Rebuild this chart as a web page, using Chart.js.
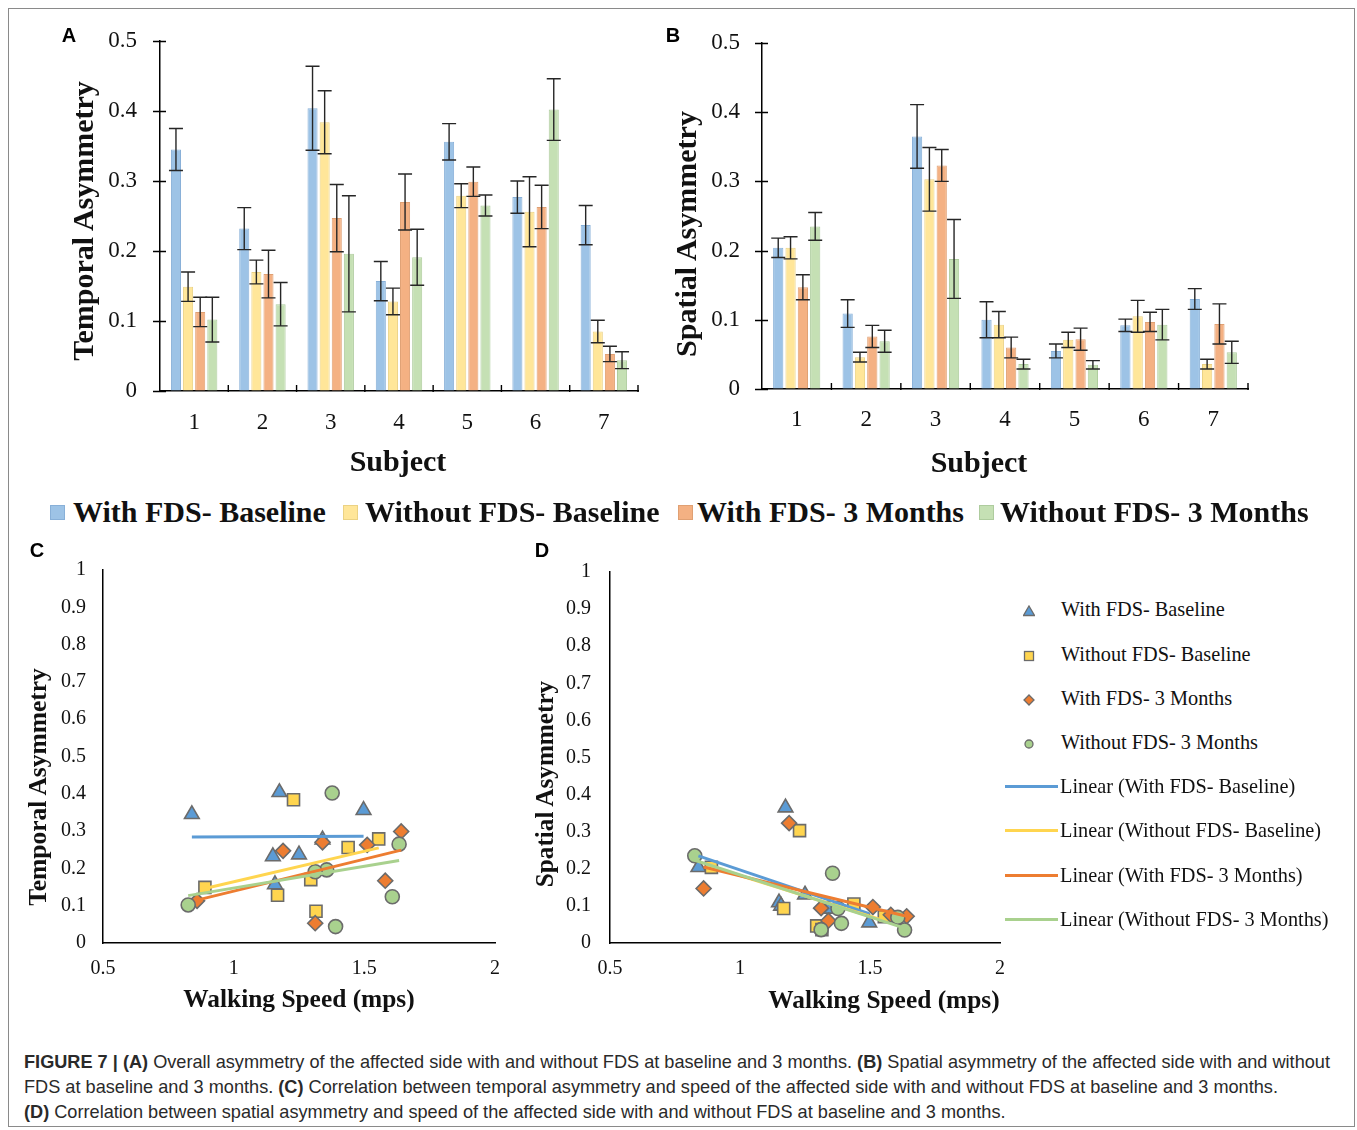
<!DOCTYPE html>
<html><head><meta charset="utf-8">
<script src="https://cdn.jsdelivr.net/npm/chart.js@4.4.1/dist/chart.umd.min.js"></script>
<style>
html,body{margin:0;padding:0;background:#fff;}
body{width:1357px;height:1130px;position:relative;overflow:hidden;font-family:"Liberation Serif","Times New Roman",serif;color:#111;}
.abs{position:absolute;}
.frame{position:absolute;left:8px;top:8px;width:1347px;height:1119px;border:1px solid #8a8a8a;box-sizing:border-box;}
canvas{display:block;}
.lett{position:absolute;font-family:"Liberation Sans",Arial,sans-serif;font-weight:bold;font-size:20px;transform:translate(-50%,-50%);color:#000;}
.ytitle{position:absolute;white-space:nowrap;font-weight:bold;transform:translate(-50%,-50%) rotate(-90deg);color:#111;}
.xtitle{position:absolute;white-space:nowrap;font-weight:bold;transform:translate(-50%,-50%);color:#111;}
.lgbox{position:absolute;width:15px;height:15px;box-sizing:border-box;}
.lgtxt{position:absolute;white-space:nowrap;font-weight:bold;font-size:30px;transform:translateY(-50%);color:#111;}
.dtxt{position:absolute;white-space:nowrap;font-size:20.3px;transform:translateY(-50%);color:#111;}
.cap{position:absolute;left:24px;white-space:nowrap;font-family:"Liberation Sans Narrow","Liberation Sans",Arial,sans-serif;font-size:19px;color:#2a2a2a;transform-origin:0 50%;line-height:22px;}
</style>
</head>
<body>
<div class="frame"></div>

<div class="abs" style="left:20px;top:20px;"><canvas id="cA" width="640" height="460"></canvas></div>
<div class="abs" style="left:660px;top:20px;"><canvas id="cB" width="620" height="460"></canvas></div>
<div class="abs" style="left:20px;top:545px;"><canvas id="cC" width="500" height="490"></canvas></div>
<div class="abs" style="left:520px;top:545px;"><canvas id="cD" width="500" height="490"></canvas></div>

<div class="lett" style="left:69px;top:35px;">A</div>
<div class="lett" style="left:673px;top:35px;">B</div>
<div class="lett" style="left:37px;top:550px;">C</div>
<div class="lett" style="left:542px;top:550px;">D</div>

<div class="ytitle" style="left:83px;top:221px;font-size:30px;">Temporal Asymmetry</div>
<div class="ytitle" style="left:686px;top:234px;font-size:30px;">Spatial Asymmetry</div>
<div class="ytitle" style="left:38px;top:787px;font-size:25.5px;">Temporal Asymmetry</div>
<div class="ytitle" style="left:545px;top:784px;font-size:25.2px;">Spatial Asymmetry</div>
<div class="xtitle" style="left:398px;top:461px;font-size:30px;">Subject</div>
<div class="xtitle" style="left:979px;top:462px;font-size:30px;">Subject</div>
<div class="xtitle" style="left:299px;top:998px;font-size:25.4px;">Walking Speed (mps)</div>
<div class="xtitle" style="left:884px;top:999px;font-size:25.4px;">Walking Speed (mps)</div>

<div id="barLegend"></div>
<div id="scatLegend"></div>

<div class="cap" id="cap1" style="top:1051px;"><b>FIGURE 7 | (A)</b> Overall asymmetry of the affected side with and without FDS at baseline and 3 months. <b>(B)</b> Spatial asymmetry of the affected side with and without</div>
<div class="cap" id="cap2" style="top:1076px;">FDS at baseline and 3 months. <b>(C)</b> Correlation between temporal asymmetry and speed of the affected side with and without FDS at baseline and 3 months.</div>
<div class="cap" id="cap3" style="top:1101px;"><b>(D)</b> Correlation between spatial asymmetry and speed of the affected side with and without FDS at baseline and 3 months.</div>

<script>
// ---------- DATA ----------
const subjects = ['1', '2', '3', '4', '5', '6', '7'];
const seriesNames = ['With FDS- Baseline', 'Without FDS- Baseline', 'With FDS- 3 Months', 'Without FDS- 3 Months'];

// Panel A: temporal asymmetry (mean) and error
const temporalWithBase      = [0.345, 0.232, 0.404, 0.157, 0.356, 0.277, 0.237];
const temporalWithBaseErr   = [0.030, 0.030, 0.060, 0.028, 0.026, 0.023, 0.028];
const temporalWithoutBase   = [0.149, 0.170, 0.384, 0.128, 0.279, 0.256, 0.085];
const temporalWithoutBaseErr= [0.021, 0.017, 0.045, 0.019, 0.017, 0.050, 0.016];
const temporalWith3m        = [0.113, 0.167, 0.247, 0.270, 0.299, 0.263, 0.053];
const temporalWith3mErr     = [0.021, 0.034, 0.048, 0.040, 0.021, 0.031, 0.011];
const temporalWithout3m     = [0.102, 0.124, 0.196, 0.191, 0.265, 0.402, 0.044];
const temporalWithout3mErr  = [0.032, 0.031, 0.083, 0.040, 0.015, 0.044, 0.012];

// Panel B: spatial asymmetry (mean) and error
const spatialWithBase       = [0.204, 0.109, 0.365, 0.100, 0.055, 0.092, 0.130];
const spatialWithBaseErr    = [0.014, 0.020, 0.046, 0.026, 0.010, 0.009, 0.015];
const spatialWithoutBase    = [0.204, 0.046, 0.303, 0.093, 0.071, 0.105, 0.036];
const spatialWithoutBaseErr = [0.016, 0.007, 0.046, 0.019, 0.011, 0.023, 0.007];
const spatialWith3m         = [0.147, 0.076, 0.323, 0.060, 0.072, 0.097, 0.094];
const spatialWith3mErr      = [0.018, 0.016, 0.023, 0.015, 0.016, 0.014, 0.029];
const spatialWithout3m      = [0.235, 0.069, 0.188, 0.036, 0.035, 0.093, 0.053];
const spatialWithout3mErr   = [0.020, 0.016, 0.057, 0.007, 0.006, 0.022, 0.016];

// Walking speed (mps) per subject
const speedWithBase    = [0.840, 1.150, 1.175, 1.158, 1.497, 1.340, 1.250];
const speedWithoutBase = [0.890, 1.295, 1.229, 1.168, 1.555, 1.438, 1.315];
const speedWith3m      = [0.860, 1.580, 1.189, 1.340, 1.641, 1.511, 1.312];
const speedWithout3m   = [0.826, 1.607, 1.356, 1.312, 1.633, 1.377, 1.390];

// Linear trend lines (end points)
const trendTempX = [[0.840, 1.497], [0.890, 1.555], [0.860, 1.641], [0.826, 1.633]];
const trendTempY = [[0.284, 0.286], [0.146, 0.255], [0.115, 0.249], [0.127, 0.221]];
const trendSpatX = [[0.840, 1.497], [0.890, 1.555], [0.860, 1.641], [0.826, 1.633]];
const trendSpatY = [[0.235, 0.079], [0.206, 0.060], [0.205, 0.072], [0.223, 0.040]];

// Tick labels
const barYTicks = ['0', '0.1', '0.2', '0.3', '0.4', '0.5'];
const scatYTicks = ['0', '0.1', '0.2', '0.3', '0.4', '0.5', '0.6', '0.7', '0.8', '0.9', '1'];
const speedTicks = ['0.5', '1', '1.5', '2'];

// ---------- STYLE ----------
const SERIF = '"Liberation Serif","Times New Roman",serif';
const barFill = ['#9DC3E6', '#FFE699', '#F4B183', '#C5E0B4'];
const barEdge = ['#88B0D8', '#EBD284', '#E0A073', '#AECC9E'];
const markFill = ['#5B9BD5', '#FFD54F', '#ED7D31', '#A9D18E'];
const lineCol = ['#5B9BD5', '#FFD54F', '#ED7D31', '#A9D18E'];
const markShape = ['triangle', 'rect', 'rectRot', 'circle'];
const markRadius = [8.5, 8.5, 7.5, 7];

// ---------- PLUGINS ----------
const errorBars = {
  id: 'errorBars',
  afterDatasetsDraw(chart) {
    const ctx = chart.ctx, ys = chart.scales.y;
    ctx.save();
    ctx.strokeStyle = '#262626';
    ctx.lineWidth = 1.4;
    chart.data.datasets.forEach((ds, di) => {
      const meta = chart.getDatasetMeta(di);
      meta.data.forEach((bar, i) => {
        const v = ds.data[i], e = ds.errors[i];
        const t = ys.getPixelForValue(v + e), b = ys.getPixelForValue(v - e), x = bar.x, w = 7;
        ctx.beginPath();
        ctx.moveTo(x, t); ctx.lineTo(x, b);
        ctx.moveTo(x - w, t); ctx.lineTo(x + w, t);
        ctx.moveTo(x - w, b); ctx.lineTo(x + w, b);
        ctx.stroke();
      });
    });
    ctx.restore();
  }
};
const barAxisTicks = {
  id: 'barAxisTicks',
  afterDraw(chart) {
    const ctx = chart.ctx, xs = chart.scales.x, ys = chart.scales.y;
    ctx.save();
    ctx.strokeStyle = '#000';
    ctx.lineWidth = 1.4;
    ctx.beginPath();
    ys.ticks.forEach((t, i) => {
      const py = Math.round(ys.getPixelForTick(i)) + 0.5;
      ctx.moveTo(xs.left - 7, py); ctx.lineTo(xs.left + 6, py);
    });
    const n = xs.ticks.length;
    for (let i = 1; i <= n; i++) {
      const px = xs.left + i * (xs.width / n);
      ctx.moveTo(px, ys.bottom + 1); ctx.lineTo(px, ys.bottom - 6);
    }
    ctx.stroke();
    ctx.restore();
  }
};
// invisible tick marks used only to set the label gap
function gapGrid(len) {
  return { display: true, drawOnChartArea: false, drawTicks: true, tickLength: len, color: 'rgba(0,0,0,0)' };
}

// ---------- BAR CHARTS ----------
function makeBar(id, seriesVals, seriesErrs, pad, yWidth, xHeight, xPad, yGap) {
  new Chart(document.getElementById(id), {
    type: 'bar',
    data: {
      labels: subjects,
      datasets: seriesVals.map((vals, k) => ({
        label: seriesNames[k],
        data: vals,
        errors: seriesErrs[k],
        backgroundColor: barFill[k],
        borderColor: barEdge[k],
        borderWidth: 1,
        categoryPercentage: 0.71,
        barPercentage: 0.83
      }))
    },
    options: {
      responsive: false,
      animation: false,
      layout: { padding: pad },
      plugins: { legend: { display: false }, tooltip: { enabled: false } },
      scales: {
        x: {
          type: 'category', offset: true,
          grid: { display: false, drawTicks: false },
          border: { display: true, color: '#000', width: 1.5 },
          ticks: { font: { family: SERIF, size: 23 }, color: '#111', padding: xPad },
          afterFit(s) { s.height = xHeight; }
        },
        y: {
          min: 0, max: 0.5,
          grid: gapGrid(yGap - 6),
          border: { display: true, color: '#000', width: 1.5 },
          ticks: { stepSize: 0.1, font: { family: SERIF, size: 23 }, color: '#111', padding: 6,
                   callback: (v, i) => barYTicks[i] },
          afterFit(s) { s.width = yWidth; }
        }
      }
    },
    plugins: [errorBars, barAxisTicks]
  });
}
makeBar('cA',
  [temporalWithBase, temporalWithoutBase, temporalWith3m, temporalWithout3m],
  [temporalWithBaseErr, temporalWithoutBaseErr, temporalWith3mErr, temporalWithout3mErr],
  { top: 21, right: 22, left: 0, bottom: 0 }, 140, 89, 18, 23);
makeBar('cB',
  [spatialWithBase, spatialWithoutBase, spatialWith3m, spatialWithout3m],
  [spatialWithBaseErr, spatialWithoutBaseErr, spatialWith3mErr, spatialWithout3mErr],
  { top: 23, right: 32, left: 0, bottom: 0 }, 102, 91, 17, 22);

// ---------- SCATTER CHARTS ----------
function makeScatter(id, speeds, vals, trendX, trendY, pad, yWidth, xHeight, yGap) {
  const pts = [];
  speeds.forEach((sp, k) => {
    pts.push({
      type: 'scatter',
      label: seriesNames[k],
      data: sp.map((x, i) => ({ x: x, y: vals[k][i] })),
      pointStyle: markShape[k],
      pointRadius: markRadius[k],
      backgroundColor: markFill[k],
      borderColor: '#6b6b6b',
      borderWidth: 1.6,
      order: 8 - k
    });
  });
  const lines = trendX.map((xs, k) => ({
    type: 'line',
    label: 'Linear (' + seriesNames[k] + ')',
    data: xs.map((x, i) => ({ x: x, y: trendY[k][i] })),
    borderColor: lineCol[k],
    borderWidth: 3,
    pointRadius: 0,
    fill: false,
    order: 4 - k
  }));
  new Chart(document.getElementById(id), {
    type: 'scatter',
    data: { datasets: pts.concat(lines) },
    options: {
      responsive: false,
      animation: false,
      layout: { padding: pad },
      plugins: { legend: { display: false }, tooltip: { enabled: false } },
      scales: {
        x: {
          type: 'linear', min: 0.5, max: 2,
          grid: { display: false, drawTicks: false },
          border: { display: true, color: '#000', width: 1.5 },
          ticks: { stepSize: 0.5, font: { family: SERIF, size: 20 }, color: '#111', padding: 14,
                   callback: (v, i) => speedTicks[i] },
          afterFit(s) { s.height = xHeight; }
        },
        y: {
          min: 0, max: 1,
          grid: gapGrid(yGap - 8),
          border: { display: true, color: '#000', width: 1.5 },
          ticks: { stepSize: 0.1, font: { family: SERIF, size: 20 }, color: '#111', padding: 8,
                   callback: (v, i) => scatYTicks[i] },
          afterFit(s) { s.width = yWidth; }
        }
      }
    }
  });
}
const speeds = [speedWithBase, speedWithoutBase, speedWith3m, speedWithout3m];
makeScatter('cC', speeds,
  [temporalWithBase, temporalWithoutBase, temporalWith3m, temporalWithout3m],
  trendTempX, trendTempY, { top: 25, right: 25, left: 0, bottom: 0 }, 83, 92, 17);
makeScatter('cD', speeds,
  [spatialWithBase, spatialWithoutBase, spatialWith3m, spatialWithout3m],
  trendSpatX, trendSpatY, { top: 27, right: 20, left: 0, bottom: 0 }, 90, 92, 19);

// ---------- LEGENDS ----------
(function () {
  const bl = document.getElementById('barLegend');
  const boxX = [50, 343, 678, 979], txtX = [73, 365, 697, 1000];
  seriesNames.forEach((n, k) => {
    const b = document.createElement('div');
    b.className = 'lgbox';
    b.style.left = boxX[k] + 'px'; b.style.top = '505px';
    b.style.background = barFill[k];
    b.style.border = '1px solid ' + barEdge[k];
    bl.appendChild(b);
    const t = document.createElement('div');
    t.className = 'lgtxt';
    t.style.left = txtX[k] + 'px'; t.style.top = '512px';
    t.textContent = n;
    bl.appendChild(t);
  });
  const sl = document.getElementById('scatLegend');
  const rowY = [609, 654, 698, 742, 786, 830, 875, 919];
  const shapes = [
    '<polygon points="6,1 11.5,10.5 0.5,10.5" />',
    '<rect x="1.5" y="1.5" width="9" height="9" />',
    '<polygon points="6,1 11,6 6,11 1,6" />',
    '<circle cx="6" cy="6" r="4" />'
  ];
  seriesNames.forEach((n, k) => {
    const s = document.createElement('div');
    s.className = 'abs';
    s.style.left = '1023px'; s.style.top = (rowY[k] - 6) + 'px';
    s.innerHTML = '<svg width="12" height="12"><g fill="' + markFill[k] + '" stroke="#6b6b6b" stroke-width="1.3">' + shapes[k] + '</g></svg>';
    sl.appendChild(s);
    const t = document.createElement('div');
    t.className = 'dtxt';
    t.style.left = '1061px'; t.style.top = rowY[k] + 'px';
    t.textContent = n;
    sl.appendChild(t);
  });
  seriesNames.forEach((n, k) => {
    const l = document.createElement('div');
    l.className = 'abs';
    l.style.left = '1005px'; l.style.top = (rowY[k + 4] - 1.5) + 'px';
    l.style.width = '53px'; l.style.height = '3px';
    l.style.background = lineCol[k];
    sl.appendChild(l);
    const t = document.createElement('div');
    t.className = 'dtxt';
    t.style.left = '1060px'; t.style.top = rowY[k + 4] + 'px';
    t.textContent = 'Linear (' + n + ')';
    sl.appendChild(t);
  });
  // caption fit
  const c1 = document.getElementById('cap1');
  const w = c1.getBoundingClientRect().width;
  const sc = 1306 / w;
  ['cap1', 'cap2', 'cap3'].forEach(id => {
    document.getElementById(id).style.transform = 'scaleX(' + sc + ')';
  });
})();
</script>
</body></html>
